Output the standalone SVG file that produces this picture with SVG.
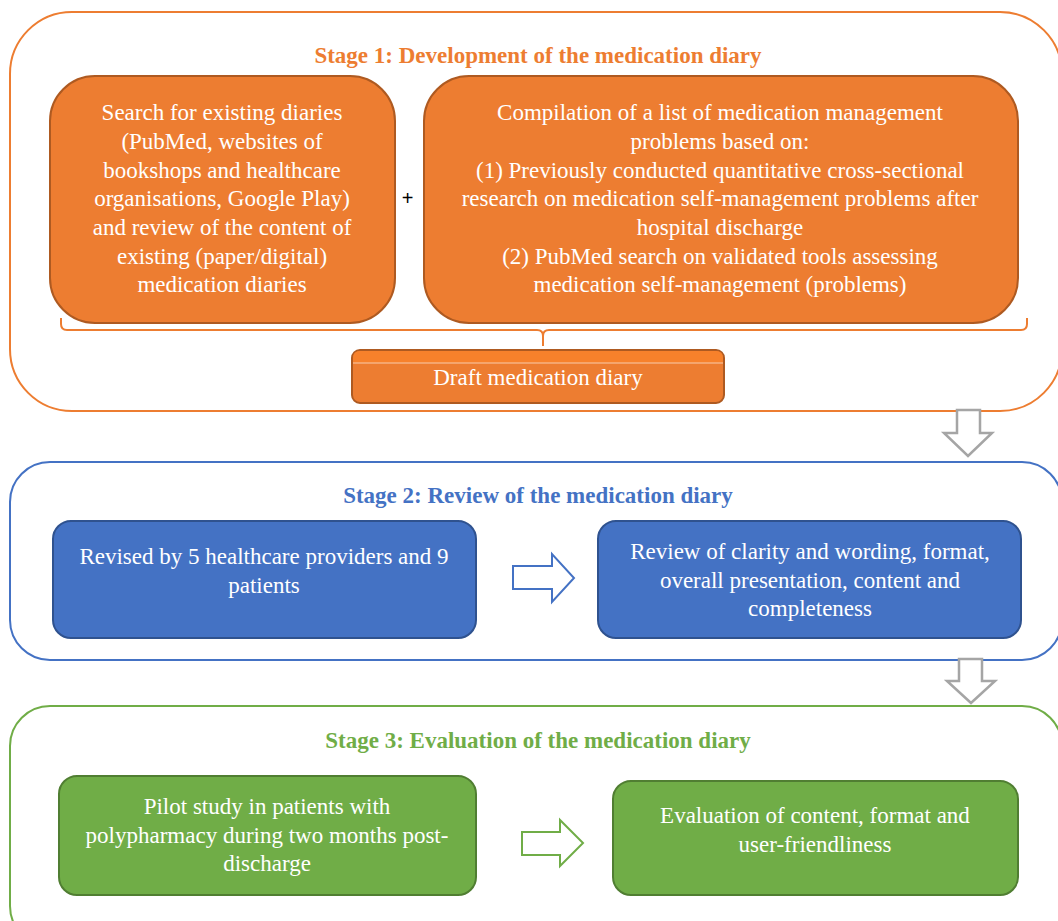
<svg xmlns="http://www.w3.org/2000/svg" width="1058" height="921" viewBox="0 0 1058 921">
<style>
.title{font-family:"Liberation Serif",serif;font-weight:bold;font-size:23px;text-anchor:middle}
.t{font-family:"Liberation Serif",serif;font-size:23px;fill:#fff;text-anchor:middle}
.ob{fill:#ED7D31;stroke:#AE5A21;stroke-width:2}
.bb{fill:#4472C4;stroke:#2F528F;stroke-width:2}
.gb{fill:#70AD47;stroke:#507E32;stroke-width:2}
.down{fill:#fff;stroke:#A5A5A5;stroke-width:2.5;stroke-linejoin:miter}
</style>
<rect width="1058" height="921" fill="#fff"/>
<g id="stage1">
<rect x="10" y="12" width="1052" height="399" rx="62" fill="none" stroke="#ED7D31" stroke-width="2"/>
<text class="title" x="538" y="63" fill="#ED7D31">Stage 1: Development of the medication diary</text>
</g>
<g id="search">
<rect class="ob" x="50" y="76" width="345" height="247" rx="45"/>
<text class="t" x="222" y="120">Search for existing diaries</text>
<text class="t" x="222" y="149">(PubMed, websites of</text>
<text class="t" x="222" y="178">bookshops and healthcare</text>
<text class="t" x="222" y="206">organisations, Google Play)</text>
<text class="t" x="222" y="235">and review of the content of</text>
<text class="t" x="222" y="264">existing (paper/digital)</text>
<text class="t" x="222" y="292">medication diaries</text>
</g>
<g id="plus"><text x="407.5" y="205" font-family="Liberation Sans,sans-serif" font-size="20" text-anchor="middle" fill="#000">+</text></g>
<g id="compilation">
<rect class="ob" x="424" y="76" width="594" height="247" rx="45"/>
<text class="t" x="720" y="120">Compilation of a list of medication management</text>
<text class="t" x="720" y="149">problems based on:</text>
<text class="t" x="720" y="178">(1) Previously conducted quantitative cross-sectional</text>
<text class="t" x="720" y="206">research on medication self-management problems after</text>
<text class="t" x="720" y="235">hospital discharge</text>
<text class="t" x="720" y="264">(2) PubMed search on validated tools assessing</text>
<text class="t" x="720" y="292">medication self-management (problems)</text>
</g>
<g id="draft">
<rect class="ob" x="352" y="350" width="372" height="53" rx="8"/>
<path d="M353 363 V358 Q353 351 360 351 H716 Q723 351 723 358 V363 Z" fill="#F7812B"/>
<line x1="353" y1="363" x2="723" y2="363" stroke="#F8CBAD" stroke-width="1"/>
<text class="t" x="538" y="385">Draft medication diary</text>
</g>
<g id="stage2">
<rect x="10" y="462" width="1052" height="198" rx="40" fill="none" stroke="#4472C4" stroke-width="2"/>
<text class="title" x="538" y="503" fill="#4472C4">Stage 2: Review of the medication diary</text>
</g>
<g id="revised">
<rect class="bb" x="53" y="521" width="423" height="117" rx="18"/>
<text class="t" x="264" y="564">Revised by 5 healthcare providers and 9</text>
<text class="t" x="264" y="593">patients</text>
</g>
<g id="review">
<rect class="bb" x="598" y="521" width="423" height="117" rx="18"/>
<text class="t" x="810" y="559">Review of clarity and wording, format,</text>
<text class="t" x="810" y="588">overall presentation, content and</text>
<text class="t" x="810" y="616">completeness</text>
</g>
<g id="stage3">
<rect x="10" y="706" width="1052" height="240" rx="40" fill="none" stroke="#70AD47" stroke-width="2"/>
<text class="title" x="538" y="748" fill="#70AD47">Stage 3: Evaluation of the medication diary</text>
</g>
<g id="pilot">
<rect class="gb" x="59" y="776" width="417" height="119" rx="18"/>
<text class="t" x="267" y="814">Pilot study in patients with</text>
<text class="t" x="267" y="843">polypharmacy during two months post-</text>
<text class="t" x="267" y="871">discharge</text>
</g>
<g id="evaluation">
<rect class="gb" x="613" y="781" width="405" height="114" rx="18"/>
<text class="t" x="815" y="823">Evaluation of content, format and</text>
<text class="t" x="815" y="852">user-friendliness</text>
</g>
<g id="connectors">
<path d="M61 318 V324 Q61 330 67 330 H537 Q543 330 543 336 V346 M543 336 Q543 330 549 330 H1021 Q1027 330 1027 324 V318" fill="none" stroke="#ED7D31" stroke-width="2"/>
<path class="down" d="M957 410 H980 V433 H992 L968 456 L944 433 H957 Z"/>
<path class="down" d="M959 659 H982 V681 H995 L971 703 L947 681 H959 Z"/>
<path d="M513 566 H552 V554 L574 578 L552 602 V589 H513 Z" fill="#fff" stroke="#4472C4" stroke-width="2"/>
<path d="M522 832 H560 V820 L583 843 L560 866 V855 H522 Z" fill="#fff" stroke="#70AD47" stroke-width="2"/>
</g>
</svg>
